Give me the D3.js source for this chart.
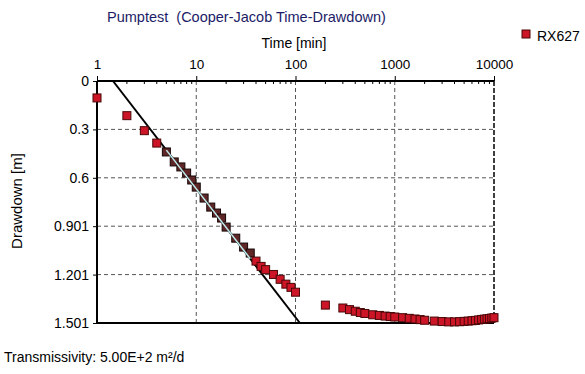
<!DOCTYPE html>
<html><head><meta charset="utf-8">
<script src="https://cdn.jsdelivr.net/npm/d3@7"></script>
<style>
html,body{margin:0;padding:0;background:#fff;}
text{font-family:"Liberation Sans",Arial,sans-serif;white-space:pre;}
</style></head>
<body><svg id="c" width="585" height="374"></svg>
<script>
// ---- data ----
const times = [1,2,3,4,5,6,7,8,9,10,12,14,16,18,20,25,30,35,40,45,50,60,70,80,90,100,
  200,300,350,400,450,500,600,700,800,900,1000,1200,1400,1600,1800,2000,2500,3000,3500,4000,
  4500,5000,5500,6000,6500,7000,7500,8000,8500,9000,9500,10000];
const drawdowns = [0.105,0.215,0.308,0.385,0.440,0.502,0.533,0.571,0.614,0.658,0.726,0.782,0.819,0.850,0.906,0.975,1.030,1.067,1.117,1.150,1.170,1.200,1.230,1.260,1.280,1.310,
  1.390,1.408,1.418,1.428,1.436,1.442,1.450,1.454,1.458,1.461,1.464,1.468,1.472,1.476,1.480,1.484,1.489,1.492,1.494,1.494,
  1.493,1.491,1.489,1.487,1.485,1.482,1.479,1.477,1.475,1.473,1.470,1.468];
const fitRange = [5, 35];
const fitLineTimes = [1.45, 110.7];
const fitLineDrawdowns = [0, 1.501];
const xTicks = [1,10,100,1000,10000];
const yTicks = [0,0.3002,0.6004,0.9006,1.2008,1.501];
const yTickLabels = ["0","0.3","0.6","0.901","1.201","1.501"];
const seriesName = "RX627";
const titleText = "Pumptest  (Cooper-Jacob Time-Drawdown)";
const xTitle = "Time [min]";
const yTitle = "Drawdown [m]";
const footer = "Transmissivity: 5.00E+2 m\u00B2/d";

// ---- layout ----
const L = 97, R = 494, T = 81, B = 323;
const svg = d3.select("#c");
const x = d3.scaleLog().domain([1,10000]).range([L,R]);
const y = d3.scaleLinear().domain([0,1.501]).range([T,B]);

// titles
svg.append("text").attr("x",107).attr("y",22).attr("font-size",14.5).attr("fill","#1c1c66").attr("xml:space","preserve").text(titleText);
svg.append("text").attr("x",294).attr("y",48).attr("font-size",14).attr("text-anchor","middle").text(xTitle);
svg.append("text").attr("transform","translate(22,201) rotate(-90)").attr("font-size",15).attr("text-anchor","middle").text(yTitle);
svg.append("text").attr("x",4).attr("y",362).attr("font-size",14).text(footer);

// gridlines
const g = svg.append("g");
g.selectAll("line.vg").data(xTicks.filter(d=>d>1&&d<10000)).join("line")
  .attr("x1",d=>x(d)).attr("x2",d=>x(d)).attr("y1",T).attr("y2",B)
  .attr("stroke","#555").attr("stroke-width",1).attr("stroke-dasharray","4,3");
g.selectAll("line.hg").data(yTicks.slice(1,-1)).join("line")
  .attr("y1",d=>y(d)).attr("y2",d=>y(d)).attr("x1",L).attr("x2",R)
  .attr("stroke","#555").attr("stroke-width",1).attr("stroke-dasharray","4,3");

// top axis
const xAxis = d3.axisTop(x).tickValues(xTicks).tickFormat(d3.format("d")).tickSize(5).tickPadding(7);
const ga = svg.append("g").attr("transform",`translate(0,${T})`).call(xAxis);
ga.select(".domain").remove();
ga.selectAll("text").attr("font-size",13.5).attr("font-family","Liberation Sans, Arial, sans-serif").attr("fill","#000");
// minor ticks
const minor = [];
for (let dec=1; dec<10000; dec*=10) for (let k=2;k<10;k++) minor.push(dec*k);
svg.append("g").selectAll("line").data(minor).join("line")
  .attr("x1",d=>x(d)).attr("x2",d=>x(d)).attr("y1",T).attr("y2",T+3).attr("stroke","#000");

// left axis
const yAxis = d3.axisLeft(y).tickValues(yTicks).tickFormat((d,i)=>yTickLabels[i]).tickSize(4).tickPadding(4);
const gy = svg.append("g").attr("transform",`translate(${L},0)`).call(yAxis);
gy.select(".domain").remove();
gy.selectAll("text").attr("font-size",14).attr("font-family","Liberation Sans, Arial, sans-serif").attr("fill","#000");

// frame
svg.append("line").attr("x1",L).attr("x2",R).attr("y1",T).attr("y2",T).attr("stroke","#000").attr("stroke-width",2);
svg.append("line").attr("x1",L).attr("x2",R).attr("y1",B).attr("y2",B).attr("stroke","#000").attr("stroke-width",2);
svg.append("line").attr("x1",L).attr("x2",L).attr("y1",T).attr("y2",B).attr("stroke","#000").attr("stroke-width",2);
svg.append("line").attr("x1",R).attr("x2",R).attr("y1",T).attr("y2",B).attr("stroke","#000").attr("stroke-width",1.5).attr("stroke-dasharray","5,2");

// fit line
const line = d3.line().x(d=>x(d[0])).y(d=>y(d[1]));
const fitPts = fitLineTimes.map((t,i)=>[t,fitLineDrawdowns[i]]);
svg.append("path").attr("d",line(fitPts)).attr("stroke","#000").attr("stroke-width",2).attr("fill","none");

// points
const pts = times.map((t,i)=>({t, s:drawdowns[i], fit: t>=fitRange[0]&&t<=fitRange[1]}));
const sz = 8;
svg.append("g").selectAll("rect").data(pts).join("rect")
  .attr("x",d=>x(d.t)-sz/2).attr("y",d=>y(d.s)-sz/2).attr("width",sz).attr("height",sz)
  .attr("fill",d=>d.fit?"#5e2626":"#cc1526").attr("stroke",d=>d.fit?"#160606":"#4a0808").attr("stroke-width",1);

// highlighted part of line over selected points
const fitLineAt = t => fitLineDrawdowns[0] + (fitLineDrawdowns[1]-fitLineDrawdowns[0])*(Math.log10(t)-Math.log10(fitLineTimes[0]))/(Math.log10(fitLineTimes[1])-Math.log10(fitLineTimes[0]));
svg.append("path").attr("d",line(fitRange.map(t=>[t,fitLineAt(t)]))).attr("stroke","#bfeeee").attr("stroke-width",1.5).attr("fill","none");

// legend
svg.append("rect").attr("x",522).attr("y",30).attr("width",8).attr("height",8).attr("fill","#cc1526").attr("stroke","#4a0808");
svg.append("text").attr("x",537).attr("y",41).attr("font-size",14).text(seriesName);
</script></body></html>
